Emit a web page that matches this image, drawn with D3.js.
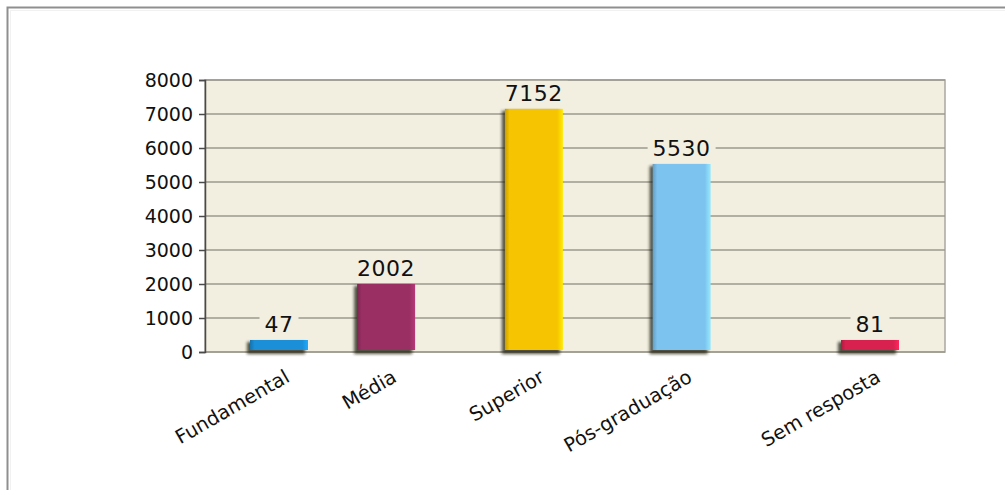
<!DOCTYPE html>
<html>
<head>
<meta charset="utf-8">
<script src="https://cdn.jsdelivr.net/npm/d3@7"></script>
<style>
  body { margin: 0; background: #fff; }
  svg { display: block; font-family: "DejaVu Sans", Verdana, sans-serif; }
</style>
</head>
<body>
<svg id="chart" width="1005" height="490"></svg>
<script>
// data
const categories = ["Fundamental", "Média", "Superior", "Pós-graduação", "Sem resposta"];
const values = [47, 2002, 7152, 5530, 81];
const yTicks = [0, 1000, 2000, 3000, 4000, 5000, 6000, 7000, 8000];
const colors = ["#1b8fd8", "#9a2f64", "#f6c400", "#7cc3ef", "#d8214f"];

// layout: bars are not evenly spaced in the original, slot index per category
const slots = [0, 2.9, 6.9, 10.9, 16];

const svg = d3.select("#chart");
const plot = { left: 205, right: 945, top: 80, bottom: 352 };
const barW = 58;
const minBarH = 12;

// outer frame
svg.append("rect")
    .attr("x", 7.5).attr("y", 7.5)
    .attr("width", 1100).attr("height", 600)
    .attr("fill", "#fff")
    .attr("stroke", "#8f8f8f")
    .attr("stroke-width", 2);
svg.append("rect")
    .attr("x", 10.5).attr("y", 10.5)
    .attr("width", 1100).attr("height", 600)
    .attr("fill", "none")
    .attr("stroke", "#f1f1f1")
    .attr("stroke-width", 1);

const y = d3.scaleLinear().domain([0, 8000]).range([plot.bottom, plot.top]);
const x = d3.scaleLinear()
    .domain([d3.min(slots), d3.max(slots)])
    .range([279, 870]);

const defs = svg.append("defs");
const blur = defs.append("filter").attr("id", "shadow")
    .attr("x", "-30%").attr("y", "-30%").attr("width", "160%").attr("height", "160%");
blur.append("feGaussianBlur").attr("stdDeviation", 1.6);

colors.forEach((c, i) => {
  const g = defs.append("linearGradient").attr("id", "grad" + i)
      .attr("x1", "0%").attr("x2", "100%").attr("y1", "0%").attr("y2", "0%");
  g.append("stop").attr("offset", "0%").attr("stop-color", d3.color(c).darker(0.6));
  g.append("stop").attr("offset", "8%").attr("stop-color", c);
  g.append("stop").attr("offset", "90%").attr("stop-color", c);
  g.append("stop").attr("offset", "100%").attr("stop-color", d3.color(c).brighter(0.5));
});

// plot background
svg.append("rect")
    .attr("x", plot.left).attr("y", plot.top)
    .attr("width", plot.right - plot.left).attr("height", plot.bottom - plot.top)
    .attr("fill", "#f2efe1")
    .attr("stroke", "#a9a7a0")
    .attr("stroke-width", 1.5);

// grid lines
svg.append("g")
  .selectAll("line")
  .data(yTicks)
  .join("line")
    .attr("x1", plot.left).attr("x2", plot.right)
    .attr("y1", d => y(d)).attr("y2", d => y(d))
    .attr("stroke", "#9b998c")
    .attr("stroke-width", 1.5);

// y axis
const yAxis = svg.append("g")
    .attr("transform", `translate(${plot.left},0)`)
    .call(d3.axisLeft(y).tickValues(yTicks).tickSize(6).tickPadding(6).tickFormat(d3.format("d")));
yAxis.select(".domain").attr("stroke", "#4a4a4a").attr("stroke-width", 1.5);
yAxis.selectAll(".tick line").attr("stroke", "#4a4a4a").attr("stroke-width", 1.5);
yAxis.selectAll(".tick text")
    .attr("font-size", 19)
    .attr("fill", "#111")
    .attr("font-family", "DejaVu Sans, Verdana, sans-serif");

const barTop = (v) => Math.min(y(v), y(0) - minBarH);

// bars
const bars = svg.append("g");
categories.forEach((cat, i) => {
  const cx = x(slots[i]);
  const top = barTop(values[i]);
  const h = y(0) - top;
  bars.append("rect")
      .attr("x", cx - barW / 2 - 3).attr("y", top + 2)
      .attr("width", barW).attr("height", h)
      .attr("fill", "#1e1e10")
      .attr("opacity", 0.75)
      .attr("filter", "url(#shadow)");
  bars.append("rect")
      .attr("x", cx - barW / 2).attr("y", top)
      .attr("width", barW).attr("height", h - 2)
      .attr("fill", `url(#grad${i})`);
});

// value labels with background knockout
const labels = svg.append("g")
    .attr("font-size", 22)
    .attr("letter-spacing", 0.5)
    .attr("fill", "#111");
categories.forEach((cat, i) => {
  const cx = x(slots[i]);
  const base = barTop(values[i]) - 8;
  const t = labels.append("text")
      .attr("x", cx).attr("y", base)
      .attr("text-anchor", "middle")
      .text(values[i]);
  const bb = t.node().getBBox();
  labels.insert("rect", "text")
      .attr("x", bb.x - 5).attr("y", bb.y)
      .attr("width", bb.width + 10).attr("height", bb.height)
      .attr("fill", "#f2efe1");
});

// category labels, rotated
svg.append("g")
  .selectAll("text")
  .data(categories)
  .join("text")
    .attr("transform", (d, i) => `translate(${x(slots[i]) + 5},${plot.bottom + 17}) rotate(-30)`)
    .attr("text-anchor", "end")
    .attr("dy", "0.7em")
    .attr("font-size", 19.5)
    .attr("fill", "#111")
    .text(d => d);
</script>
</body>
</html>
